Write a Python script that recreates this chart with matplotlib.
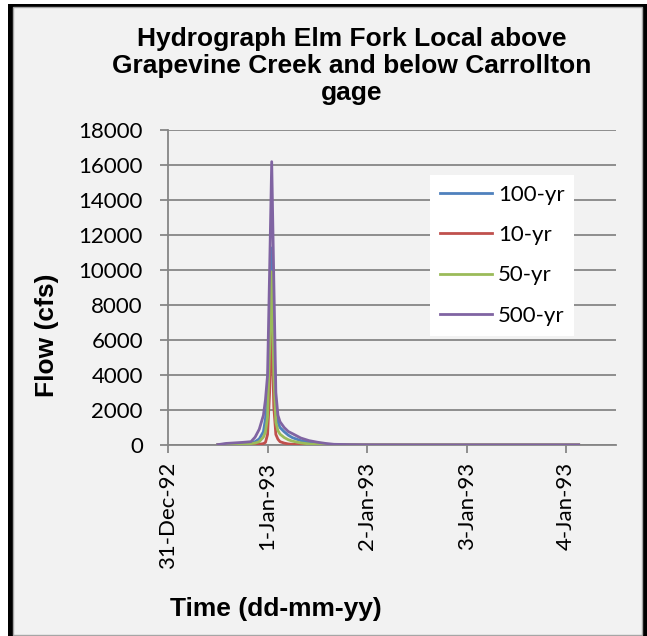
import matplotlib
matplotlib.use('Agg')
import matplotlib.pyplot as plt
from matplotlib.patches import Rectangle

# ── Data ─────────────────────────────────────────────────────────────────────
# time in hours after 31-Dec-92 00:00
hours = [12, 14, 16, 18, 20, 21, 22, 23, 23.5, 24, 24.5, 25, 25.5, 26, 26.5,
         27, 28, 29, 30, 32, 34, 36, 38, 40, 44, 48, 60, 72, 84, 99]

flow_100 = [10, 50, 70, 90, 120, 190, 350, 760, 1500, 2600, 7000, 11260, 6500, 2000, 1300,
            1000, 760, 560, 420, 250, 140, 80, 40, 20, 10, 5, 3, 3, 3, 3]
flow_10 = [2, 10, 15, 20, 25, 30, 40, 80, 150, 600, 3000, 7250, 2200, 600, 330,
           190, 110, 60, 40, 20, 12, 8, 5, 3, 2, 1, 1, 1, 1, 1]
flow_50 = [5, 30, 45, 60, 80, 110, 190, 450, 760, 1600, 5500, 9900, 4000, 1300, 820,
           620, 430, 300, 220, 120, 60, 30, 15, 10, 5, 3, 2, 2, 2, 2]
flow_500 = [20, 90, 120, 150, 190, 450, 900, 1700, 2600, 4000, 10000, 16190, 9500, 3000, 1700,
            1330, 1000, 770, 650, 400, 250, 160, 90, 40, 20, 10, 5, 5, 5, 5]

series_names = ['100-yr', '10-yr', '50-yr', '500-yr']
series_colors = ['#4F81BD', '#C0504D', '#9BBB59', '#8064A2']

day_ticks = [0, 1, 2, 3, 4]
day_labels = ['31-Dec-92', '1-Jan-93', '2-Jan-93', '3-Jan-93', '4-Jan-93']
flow_ticks = list(range(0, 18001, 2000))

BG = '#F2F2F2'
GRID = '#868686'

# ── Figure ───────────────────────────────────────────────────────────────────
W, H = 647, 636
fig = plt.figure(figsize=(W / 100, H / 100), dpi=100, facecolor='white')

# black outer frame + light grey chart area
fig.add_artist(Rectangle((8 / W, 0), 1 - 8 / W, 1 - 4 / H, transform=fig.transFigure,
                         facecolor='black', edgecolor='none', zorder=-10))
fig.add_artist(Rectangle((13 / W, 1 / H), (642 - 13) / W, 1 - 8 / H, transform=fig.transFigure,
                         facecolor=BG, edgecolor='#A6A6A6', linewidth=1, zorder=-9))

ax = fig.add_axes([168 / W, 1 - 445 / H, (616 - 168) / W, (445 - 130) / H])
ax.set_facecolor('none')

days = [h / 24 for h in hours]
for name, col, vals in zip(series_names, series_colors,
                           [flow_100, flow_10, flow_50, flow_500]):
    ax.plot(days, vals, color=col, linewidth=2.0, label=name, zorder=3,
            solid_joinstyle='round')

ax.set_xlim(0, 4.5)
ax.set_ylim(0, 18000)
ax.set_xticks(day_ticks)
ax.set_xticklabels(day_labels, rotation=90, fontfamily='Lato', fontsize=16)
ax.set_yticks(flow_ticks)
ax.set_yticklabels([str(v) for v in flow_ticks], fontfamily='Lato', fontsize=16)

ax.grid(axis='y', color=GRID, linewidth=1.3, zorder=1)
ax.set_axisbelow(True)
for s in ['top', 'right']:
    ax.spines[s].set_visible(False)
for s in ['left', 'bottom']:
    ax.spines[s].set_color(GRID)
    ax.spines[s].set_linewidth(1.3)
ax.tick_params(axis='x', length=6, width=1.3, color=GRID, pad=6)
ax.tick_params(axis='y', length=6, width=1.3, color=GRID, pad=12)

leg = ax.legend(loc='upper left', bbox_to_anchor=((430 - 168) / 448, (445 - 175) / 315),
                borderaxespad=0, frameon=True, fancybox=False, framealpha=1,
                prop={'family': 'Lato', 'size': 16}, handlelength=2.35,
                handletextpad=0.25, labelspacing=0.91, borderpad=0.45)
leg.get_frame().set_facecolor('white')
leg.get_frame().set_edgecolor('none')

fig.text(352 / W, 1 - 66 / H,
         'Hydrograph Elm Fork Local above\nGrapevine Creek and below Carrollton\ngage',
         ha='center', va='center', fontsize=19, fontweight='bold',
         fontfamily='Liberation Sans', linespacing=1.15)
fig.text(47 / W, 1 - 335 / H, 'Flow (cfs)', rotation=90, ha='center', va='center',
         fontsize=19, fontweight='bold', fontfamily='Liberation Sans')
fig.text(276 / W, 1 - 609 / H, 'Time (dd-mm-yy)', ha='center', va='center',
         fontsize=19, fontweight='bold', fontfamily='Liberation Sans')

fig.savefig('out.png', dpi=100, facecolor=fig.get_facecolor())
